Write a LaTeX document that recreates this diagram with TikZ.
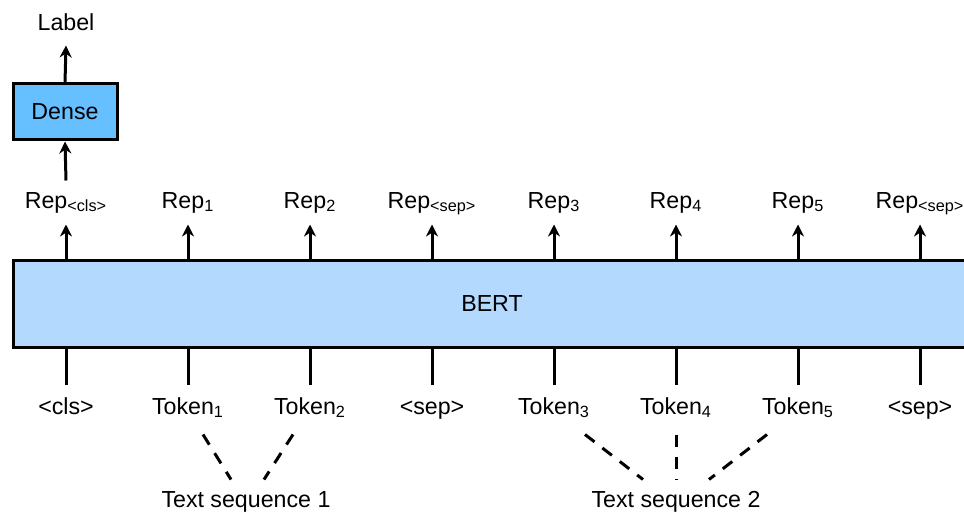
\documentclass[tikz,border=0pt]{standalone}
\usepackage{fontspec}
\setmainfont{Liberation Sans}
\usetikzlibrary{arrows.meta}
\definecolor{densefill}{RGB}{102,191,255}
\definecolor{bertfill}{RGB}{179,217,255}

\begin{document}
\begin{tikzpicture}[
  x=0.5pt, y=-0.5pt,
  font=\fontsize{11.6}{14}\selectfont,
  line width=1.5pt,
  box/.style={draw, line width=1.5pt, inner sep=0pt},
  replbl/.style={inner sep=0pt, anchor=base, text height=13pt, text depth=7.5pt},
  toklbl/.style={inner sep=0pt, anchor=base, text height=14pt, text depth=9.5pt},
  seqlbl/.style={inner sep=0pt, anchor=base, text height=13pt},
  >={Stealth[length=6pt, width=6pt]}]
\useasboundingbox (0,0) rectangle (964,519);
\node[box, fill=bertfill, minimum width=479pt, minimum height=43.5pt]
      (bert) at (492,303.5) {BERT};
\node[box, fill=densefill, minimum width=52pt, minimum height=28pt]
      (dense) at (65,112) {Dense};
\node[inner sep=0pt, anchor=base, text depth=6.5pt] (label) at (66,31) {Label};
% one column per position
\foreach \i/\x/\rep/\tok in {
    1/66/{Rep\textsubscript{<cls>}}/{<cls>},
    2/188/{Rep\textsubscript{1}}/{Token\textsubscript{1}},
    3/310/{Rep\textsubscript{2}}/{Token\textsubscript{2}},
    4/432/{Rep\textsubscript{<sep>}}/{<sep>},
    5/554/{Rep\textsubscript{3}}/{Token\textsubscript{3}},
    6/676/{Rep\textsubscript{4}}/{Token\textsubscript{4}},
    7/798/{Rep\textsubscript{5}}/{Token\textsubscript{5}},
    8/920/{Rep\textsubscript{<sep>}}/{<sep>}} {
  \node[replbl] (r\i) at (\x,208) {\rep};
  \node[toklbl] (t\i) at (\x,414) {\tok};
  \draw[->] (r\i |- bert.north) -- (r\i.south);
  \draw (t\i |- bert.south) -- (t\i.north);
}
\draw[->] (r1.north) -- (dense.south);
\draw[->] (dense.north) -- (label.south);
\node[seqlbl] (s1) at (246,507) {Text sequence 1};
\node[seqlbl] (s2) at (676,507) {Text sequence 2};
\draw[dashed, dash pattern=on 6pt off 5pt]
  ([xshift=7.5pt]t2.south) -- ([xshift=-7.5pt]s1.north);
\draw[dashed, dash pattern=on 6pt off 5pt]
  ([xshift=-8.5pt]t3.south) -- ([xshift=9pt]s1.north);
\draw[dashed, dash pattern=on 6pt off 5pt]
  ([xshift=15.5pt]t5.south) -- ([xshift=-16.5pt]s2.north);
\draw[dashed, dash pattern=on 6pt off 5pt] (t6.south) -- (s2.north);
\draw[dashed, dash pattern=on 6pt off 5pt]
  ([xshift=-15.5pt]t7.south) -- ([xshift=16.5pt]s2.north);
\end{tikzpicture}
\end{document}
